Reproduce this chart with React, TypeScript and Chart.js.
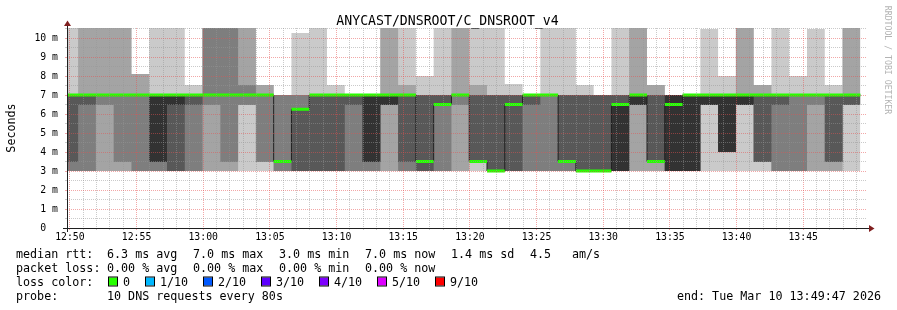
import React, { useEffect, useRef } from "react";
import { Chart, registerables } from "chart.js";

Chart.register(...registerables);

const MONO = '"DejaVu Sans Mono", "Liberation Mono", monospace';

// time axis: window 12:49:47 .. 13:49:47 (seconds from window start)
const WINDOW_SECONDS = 3600;
const STEP_SECONDS = 80;
const FIRST_STEP_END = 50;
const FIRST_FULL_MINUTE = 13; // 12:50:00
const Y_MAX = 200 / 19;

// sorted ping rtt values (ms) per 80 s step, rank 1 (fastest) .. rank 10 (slowest)
const ping1 = [3,3,3,3,3,3,3,3,3,3, 3,3,3,3,3,3,3,3,3,3, 3,3,3,3,3,3,3,3,3,3, 3,3,3,3,3,3,3,3,3,3, 3,3,3,3,3];
const ping2 = [3,3,3,3,3,3,3,3,3,3, 6.47,3.47,3,3,3,3,3,3,3,3, 3,3,3,3.47,3,3,3,3,3,3, 3,3,3,3,3,3,6.47,4,6.47,3.47, 3,3,3,3,6.47];
const ping3 = [3,3,6.47,3.47,3,3,3,3,6.47,3.47, 6.47,3.47,3,3,3,3,3,3,6.47,3, 3,3,6.47,3.47,3,3,3,3,3,3, 3,3,6.47,3.47,3,3,6.47,4,6.47,3.47, 3,3,6.47,3.47,6.47];
const ping4 = [3.47,6.47,7,7,7,3.47,3,6.47,7,7, 7,7,3.5,3,3,3,6.47,3.47,6.47,3.47, 3,6.47,7,3.47,3,3,6.47,7,3.47,3, 3,3,6.47,3.47,3,3,6.47,4,6.47,3.47, 6.47,7,7,3.47,6.47];
const ping5 = [7,7,7,7,7,3.47,6.47,7,7,7, 7,7,3.5,6.25,7,7,7,3.47,6.47,7, 3.5,6.5,7,3.5,3,6.5,7,7,3.5,3, 3,3,6.47,3.5,3,3,6.47,4,6.47,7, 7,7,7,7,7];
const ping6 = [7,7,7,7,7,7,7,7,7,7, 7,7,3.5,6.25,7,7,7,7,7,7, 3.5,6.5,7,3.5,3,6.5,7,7,3.5,3, 3,6.5,7,3.5,7,7,7,7,7,7, 7,7,7,7,7];
const ping7 = [7,7,7,7,7,7,7,7,7,7, 7,7,3.5,6.25,7,7,7,7,7,7, 7,7,7,7,7,7,7,7,7,7, 7,7,7,7,7,7,7,7,7,7, 7,7,7,7,7];
const ping8 = [7,7,7,7,7,7,7,7,10.6,10.6, 7.53,7,7,7,7,7,7,7,7,7, 7,7,7,7,7,7,7,7,7,7, 7,7,7,7,7,7,7,7,7,7, 7,7,7,7,7];
const ping9 = [7,10.6,10.6,10.6,8.1,7,7,7,10.6,10.6, 10.6,7.53,7,7,7,7,7,7,10.6,7.53, 7,7,10.6,7.53,7,7,7,7,7,7, 7,7,10.6,7.53,7,7,7,7,10.6,7.53, 7,7,7,7,10.6];
const ping10 = [10.6,10.6,10.6,10.6,8.1,10.6,10.6,7.53,10.6,10.6, 10.6,7.53,7,10.26,10.6,7.53,7,7,10.6,10.6, 8,10.6,10.6,10.6,10.6,7.58,7,10.6,10.6,7.53, 7,10.6,10.6,7.53,7,7,10.47,8,10.6,7.53, 10.6,8,10.47,7.53,10.6];
// median rtt (ms) per step
const medianRtt = [7,7,7,7,7,7,7,7,7,7, 7,7,3.5,6.25,7,7,7,7,7,7, 3.5,6.5,7,3.5,3,6.5,7,7,3.5,3, 3,6.5,7,3.5,6.5,7,7,7,7,7, 7,7,7,7,7];

const timeLabels = ["12:50","12:55","13:00","13:05","13:10","13:15","13:20","13:25","13:30","13:35","13:40","13:45"];
const yLabels = ["0  ","1 m","2 m","3 m","4 m","5 m","6 m","7 m","8 m","9 m","10 m"];
const smokeShades = ["#cacaca","#a4a4a4","#7e7e7e","#585858","#323232"];

const chartTitle = "ANYCAST/DNSROOT/C_DNSROOT_v4";
const rttStats = ["6.3 ms avg","7.0 ms max","3.0 ms min","7.0 ms now","1.4 ms sd","4.5","am/s"];
const lossStats = ["0.00 % avg","0.00 % max","0.00 % min","0.00 % now"];
const lossLabels = ["0","1/10","2/10","3/10","4/10","5/10","9/10"];
const lossColors = ["#26ff00","#00b8ff","#0059ff","#5e00ff","#7e00ff","#dd00ff","#ff0000"];
const probeText = "10 DNS requests every 80s";
const endText = "end: Tue Mar 10 13:49:47 2026";
const watermark = "RRDTOOL / TOBI OETIKER";

// layout constants (pixels)
const rttX = [107, 193, 279, 365, 451, 530, 572];
const lossX = [107, 193, 279, 365];
const lossLabelX = [123, 160, 218, 276, 334, 392, 450];

const GRID_MINOR = "rgba(150,150,150,0.5)";
const GRID_MAJOR = "rgba(230,80,80,0.5)";

const colStart = (i: number) => (i === 0 ? 0 : FIRST_STEP_END + STEP_SECONDS * (i - 1));
const colEnd = (i: number) => FIRST_STEP_END + STEP_SECONDS * i;

function stepPoints(vals: number[]) {
  const pts: { x: number; y: number }[] = [{ x: 0, y: vals[0] }];
  vals.forEach((v, i) => pts.push({ x: colEnd(i), y: v }));
  return pts;
}

function medianSegments(vals: number[]) {
  const pts: { x: number; y: number | null }[] = [];
  let i = 0;
  while (i < vals.length) {
    let j = i;
    while (j + 1 < vals.length && vals[j + 1] === vals[i]) j++;
    pts.push({ x: colStart(i), y: vals[i] }, { x: colEnd(j), y: vals[i] }, { x: colEnd(j), y: null });
    i = j + 1;
  }
  return pts;
}

const rrdDecor = {
  id: "rrdDecor",
  afterDraw(chart: any) {
    const { ctx, chartArea: a } = chart;
    ctx.save();
    // axes
    ctx.strokeStyle = "#1f1f1f";
    ctx.lineWidth = 1;
    ctx.beginPath();
    ctx.moveTo(a.left - 4, a.bottom + 0.5);
    ctx.lineTo(a.right + 4, a.bottom + 0.5);
    ctx.stroke();
    ctx.beginPath();
    ctx.moveTo(a.left + 0.5, a.bottom + 4);
    ctx.lineTo(a.left + 0.5, a.top - 4);
    ctx.stroke();
    // arrows
    ctx.fillStyle = "#801f1f";
    ctx.beginPath();
    ctx.moveTo(a.right + 2, a.bottom - 3);
    ctx.lineTo(a.right + 2, a.bottom + 4);
    ctx.lineTo(a.right + 7.5, a.bottom + 0.5);
    ctx.closePath();
    ctx.fill();
    ctx.beginPath();
    ctx.moveTo(a.left - 3, a.top - 2);
    ctx.lineTo(a.left + 4, a.top - 2);
    ctx.lineTo(a.left + 0.5, a.top - 7.5);
    ctx.closePath();
    ctx.fill();

    // title
    ctx.fillStyle = "#000";
    ctx.textBaseline = "alphabetic";
    ctx.textAlign = "center";
    ctx.font = `13.2px ${MONO}`;
    ctx.fillText(chartTitle, 447.5, 24.5);

    // legend
    ctx.textAlign = "left";
    ctx.font = `11.7px ${MONO}`;
    const rows = [258, 272, 286, 300];
    ctx.fillText("median rtt:", 16, rows[0]);
    rttStats.forEach((t, i) => ctx.fillText(t, rttX[i], rows[0]));
    ctx.fillText("packet loss:", 16, rows[1]);
    lossStats.forEach((t, i) => ctx.fillText(t, lossX[i], rows[1]));
    ctx.fillText("loss color:", 16, rows[2]);
    lossLabels.forEach((t, i) => {
      const lx = lossLabelX[i];
      ctx.fillStyle = lossColors[i];
      ctx.fillRect(lx - 14, rows[2] - 8.5, 8, 8);
      ctx.strokeStyle = "#000";
      ctx.lineWidth = 1;
      ctx.strokeRect(lx - 14.5, rows[2] - 9, 9, 9);
      ctx.fillStyle = "#000";
      ctx.fillText(t, lx, rows[2]);
    });
    ctx.fillText("probe:", 16, rows[3]);
    ctx.fillText(probeText, 107, rows[3]);
    ctx.textAlign = "right";
    ctx.fillText(endText, 881, rows[3]);

    // watermark
    ctx.save();
    ctx.translate(887, 60);
    ctx.rotate(Math.PI / 2);
    ctx.textAlign = "center";
    ctx.textBaseline = "middle";
    ctx.fillStyle = "#b3b3b3";
    ctx.font = `8.2px ${MONO}`;
    ctx.fillText(watermark, 0, 0);
    ctx.restore();

    ctx.restore();
  },
};

export default function App() {
  const canvasRef = useRef<HTMLCanvasElement | null>(null);

  useEffect(() => {
    if (!canvasRef.current) return;
    const ranks = [ping1, ping2, ping3, ping4, ping5, ping6, ping7, ping8, ping9, ping10];
    const datasets: any[] = [];
    datasets.push({
      label: "median",
      data: medianSegments(medianRtt),
      borderColor: "#26ff00",
      borderWidth: 3,
      borderCapStyle: "butt",
      pointRadius: 0,
      fill: false,
      spanGaps: false,
      order: 1,
    });
    datasets.push({
      label: "median step",
      data: stepPoints(medianRtt),
      borderColor: "#202020",
      borderWidth: 1,
      stepped: "after",
      pointRadius: 0,
      fill: false,
      order: 2,
    });
    for (let k = 0; k < 5; k++) {
      const baseIndex = datasets.length;
      datasets.push({
        label: `ping${k + 1}`,
        data: stepPoints(ranks[k]),
        borderWidth: 0,
        borderColor: "rgba(0,0,0,0)",
        stepped: "after",
        pointRadius: 0,
        fill: false,
        order: 30,
      });
      datasets.push({
        label: `ping${10 - k}`,
        data: stepPoints(ranks[9 - k]),
        borderWidth: 0,
        borderColor: "rgba(0,0,0,0)",
        backgroundColor: smokeShades[k],
        stepped: "after",
        pointRadius: 0,
        fill: { target: baseIndex },
        order: 20 - k,
      });
    }

    const minuteTicks: number[] = [];
    for (let v = FIRST_FULL_MINUTE; v <= WINDOW_SECONDS; v += 60) minuteTicks.push(v);
    const yTicks: number[] = [];
    for (let i = 0; i * 0.5 <= Y_MAX; i++) yTicks.push(i * 0.5);

    const chart = new Chart(canvasRef.current, {
      type: "line",
      data: { datasets },
      plugins: [rrdDecor],
      options: {
        animation: false,
        responsive: false,
        devicePixelRatio: 1,
        events: [],
        layout: { padding: { left: 0, right: 30, top: 28, bottom: 0 } },
        plugins: {
          legend: { display: false },
          tooltip: { enabled: false },
          title: { display: false },
        },
        scales: {
          x: {
            type: "linear",
            min: 0,
            max: WINDOW_SECONDS,
            afterBuildTicks: (s: any) => {
              s.ticks = minuteTicks.map((v) => ({ value: v }));
            },
            afterFit: (s: any) => {
              s.height = 82;
            },
            grid: {
              z: 1,
              color: (c: any) => (c.index % 5 === 0 ? GRID_MAJOR : GRID_MINOR),
              lineWidth: 1,
              tickColor: (c: any) => (c.index % 5 === 0 ? GRID_MAJOR : GRID_MINOR),
              tickWidth: 1,
              tickLength: 2,
              tickBorderDash: [],
            },
            border: { display: false, dash: [1, 1] },
            ticks: {
              autoSkip: false,
              maxRotation: 0,
              minRotation: 0,
              padding: 2,
              color: "#000",
              font: { family: MONO, size: 9.8 },
              callback: (_v: any, i: number) => (i % 5 === 0 ? timeLabels[i / 5] : ""),
            },
          },
          y: {
            type: "linear",
            min: 0,
            max: Y_MAX,
            afterBuildTicks: (s: any) => {
              s.ticks = yTicks.map((v) => ({ value: v }));
            },
            afterFit: (s: any) => {
              s.width = 67;
            },
            grid: {
              z: 1,
              color: (c: any) => (Number.isInteger(c.tick.value) ? GRID_MAJOR : GRID_MINOR),
              lineWidth: 1,
              tickColor: (c: any) => (Number.isInteger(c.tick.value) ? GRID_MAJOR : GRID_MINOR),
              tickWidth: 1,
              tickLength: 2,
              tickBorderDash: [],
            },
            border: { display: false, dash: [1, 1] },
            ticks: {
              autoSkip: false,
              padding: 7,
              color: "#000",
              font: { family: MONO, size: 9.8 },
              callback: (v: any) => (Number.isInteger(v) ? yLabels[v] : ""),
            },
            title: {
              display: true,
              text: "Seconds",
              color: "#000",
              font: { family: MONO, size: 11.7 },
              padding: { top: 4.5, bottom: 0 },
            },
          },
        },
      } as any,
    });
    return () => chart.destroy();
  }, []);

  return (
    <div style={{ position: "absolute", left: 0, top: 0, width: 897, height: 310, background: "#fff" }}>
      <canvas ref={canvasRef} width={897} height={310} style={{ display: "block" }} />
    </div>
  );
}
